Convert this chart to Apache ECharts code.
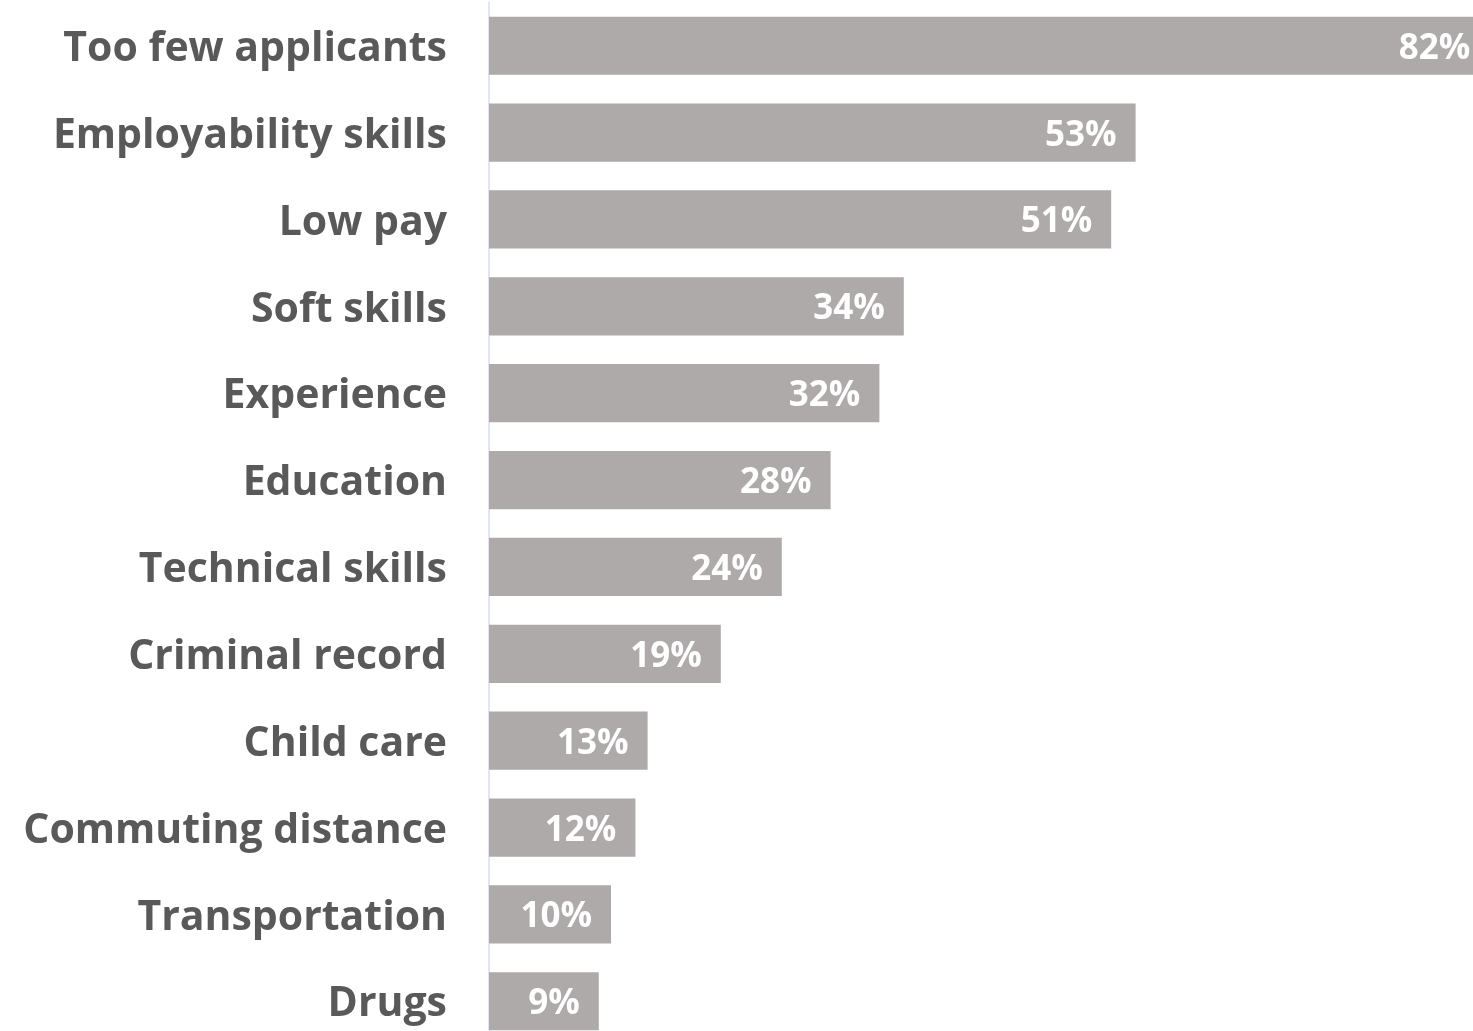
<!DOCTYPE html>
<html>
<head>
<meta charset="utf-8">
<style>
  html, body { margin: 0; padding: 0; background: #ffffff; overflow: hidden; }
  /* plot area runs past the right and bottom edges of the window */
  #chart { width: 1720px; height: 1060px; }
</style>
<script src="https://cdn.jsdelivr.net/npm/echarts@6/dist/echarts.min.js"></script>
</head>
<body>
<div id="chart"></div>
<script>
// Barriers to hiring, share of respondents (%), listed top to bottom
const categories = [
  'Too few applicants', 'Employability skills', 'Low pay', 'Soft skills',
  'Experience', 'Education', 'Technical skills', 'Criminal record',
  'Child care', 'Commuting distance', 'Transportation', 'Drugs'
];
const shares = [82, 53, 51, 34, 32, 28, 24, 19, 13, 12, 10, 9];

const chart = echarts.init(document.getElementById('chart'), null, { renderer: 'canvas' });

chart.setOption({
  animation: false,
  backgroundColor: '#ffffff',
  grid: { left: 489, top: 2.3, width: 1220, height: 1042.4, containLabel: false },
  xAxis: {
    type: 'value', min: 0, max: 100,
    show: false
  },
  yAxis: {
    type: 'category',
    data: categories,
    inverse: true,
    axisLine: { show: true, lineStyle: { color: '#D9DDF0', width: 1.5 } },
    axisTick: { show: false },
    axisLabel: {
      margin: 42,
      formatter: v => '{c|' + v + '}',
      rich: {
        c: {
          color: '#595959',
          fontFamily: 'Open Sans',
          fontWeight: 'bold',
          fontSize: 41,
          padding: [7, 0, 0, 0]
        }
      }
    }
  },
  series: [{
    type: 'bar',
    data: shares,
    barCategoryGap: '33%',
    itemStyle: { color: '#AEAAAA' },
    label: {
      show: true,
      position: 'insideRight',
      distance: 19,
      offset: [0, 3],
      formatter: p => p.value + '%',
      color: '#ffffff',
      fontFamily: 'Open Sans',
      fontWeight: 'bold',
      fontSize: 35
    }
  }]
});
</script>
</body>
</html>
